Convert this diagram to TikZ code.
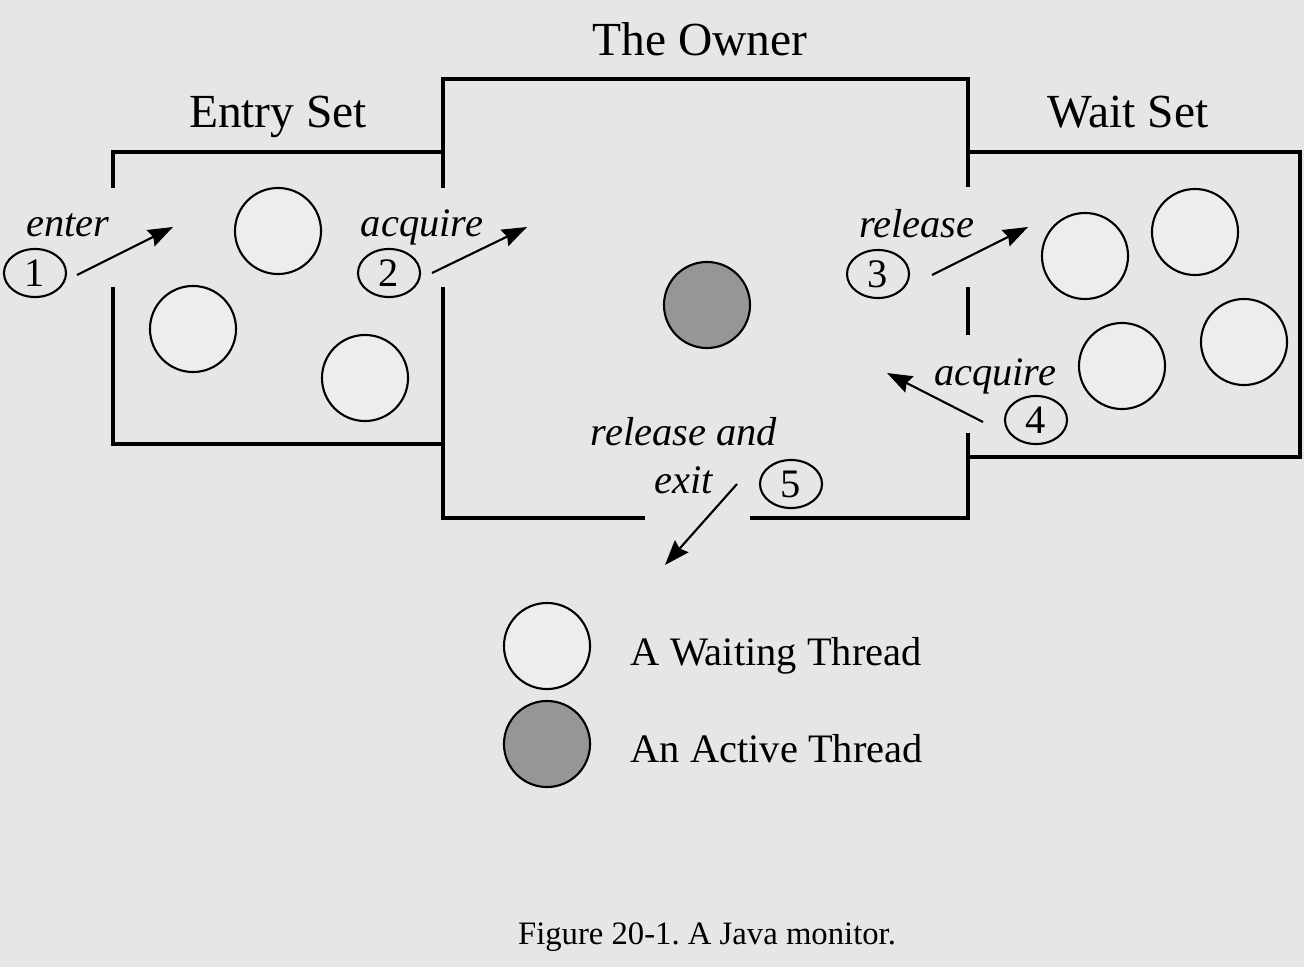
\documentclass[tikz,border=0pt]{standalone}
\usepackage{fontspec}
\setmainfont{Liberation Serif}
\usetikzlibrary{arrows.meta, shapes.geometric}

\definecolor{bgcol}{RGB}{230,230,230}
\definecolor{waitcol}{RGB}{237,237,237}
\definecolor{activecol}{RGB}{150,150,150}

\begin{document}
\frenchspacing
\begin{tikzpicture}[x=0.01cm, y=-0.01cm, >={Stealth[length=2.5mm, width=1.8mm, inset=0.3mm]},
    wall/.style={line width=0.9pt},
    waiting/.style={draw, circle, fill=waitcol, line width=0.6pt, minimum size=0.86cm, inner sep=0pt},
    active/.style={draw, circle, fill=activecol, line width=0.6pt, minimum size=0.86cm, inner sep=0pt},
    stepnum/.style={draw, ellipse, line width=0.6pt, minimum width=0.62cm, minimum height=0.48cm, inner sep=0pt, font=\fontsize{11.5}{13}\selectfont},
    title/.style={anchor=base, font=\fontsize{13.5}{16}\selectfont},
    act/.style={anchor=base, font=\fontsize{11.5}{13}\selectfont\itshape},
    legendtext/.style={anchor=base west, inner sep=0pt, font=\fontsize{11.5}{13}\selectfont},
    flow/.style={->, line width=0.6pt}]

    % background and page size
    \fill[bgcol] (0,0) rectangle (1304,967);
    \useasboundingbox (0,0) rectangle (1304,967);

    % Define the walls of the three rooms
    \draw[wall] (113,188) -- (113,152) -- (443,152);
    \draw[wall] (113,287) -- (113,444) -- (443,444);
    \draw[wall] (443,188) -- (443,79) -- (968,79) -- (968,187);
    \draw[wall] (443,287) -- (443,518) -- (645,518);
    \draw[wall] (750,518) -- (968,518) -- (968,433);
    \draw[wall] (968,287) -- (968,335);
    \draw[wall] (968,152) -- (1300,152) -- (1300,457) -- (968,457);

    % Define room titles
    \node[title] (owner) at (700,56) {The Owner};
    \node[title] (entry) at (278,128) {Entry Set};
    \node[title] (wait) at (1128,128) {Wait Set};

    % Define threads in the entry set
    \node[waiting] (E1) at (278,231) {};
    \node[waiting] (E2) at (193,329) {};
    \node[waiting] (E3) at (365,378) {};

    % Define the thread that owns the monitor
    \node[active] (O1) at (707,305) {};

    % Define threads in the wait set
    \node[waiting] (W1) at (1085,256) {};
    \node[waiting] (W2) at (1195,232) {};
    \node[waiting] (W3) at (1122,366) {};
    \node[waiting] (W4) at (1244,342) {};

    % Define numbered steps
    \node[stepnum] (n1) at (35,273) {1};
    \node[stepnum] (n2) at (389,273) {2};
    \node[stepnum] (n3) at (878,274) {3};
    \node[stepnum] (n4) at (1036,420) {4};
    \node[stepnum] (n5) at (791,484) {5};

    % Define step labels
    \node[act] (l1) at (68,237) {enter};
    \node[act] (l2) at (422,237) {acquire};
    \node[act] (l3) at (917,238) {release};
    \node[act] (l4) at (995,385) {acquire};
    \node[act] (l5a) at (684,445) {release and};
    \node[act] (l5b) at (684,493) {exit};

    % Define arrow ends
    \coordinate (s1) at (77,275);  \coordinate (t1) at (173,227);
    \coordinate (s2) at (432,273); \coordinate (t2) at (527,227);
    \coordinate (s3) at (932,275); \coordinate (t3) at (1028,227);
    \coordinate (s4) at (983,422); \coordinate (t4) at (887,373);
    \coordinate (s5) at (737,484); \coordinate (t5) at (665,565);

    % Draw the arrows
    \draw[flow] (s1) -- (t1);
    \draw[flow] (s2) -- (t2);
    \draw[flow] (s3) -- (t3);
    \draw[flow] (s4) -- (t4);
    \draw[flow] (s5) -- (t5);

    % Define the legend
    \node[waiting] (L1) at (547,646) {};
    \node[active] (L2) at (547,744) {};
    \node[legendtext] (L1text) at (630,665) {A Waiting Thread};
    \node[legendtext] (L2text) at (630,762) {An Active Thread};

    % caption
    \node[anchor=base, font=\fontsize{9.3}{11}\selectfont] (caption) at (707,944) {Figure 20-1. A Java monitor.};

\end{tikzpicture}
\end{document}
